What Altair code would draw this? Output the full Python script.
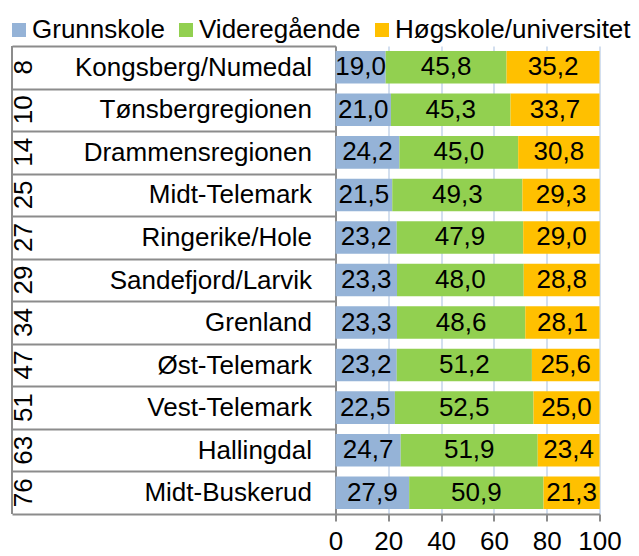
import altair as alt
import pandas as pd

regions = ["Kongsberg/Numedal", "Tønsbergregionen", "Drammensregionen", "Midt-Telemark",
           "Ringerike/Hole", "Sandefjord/Larvik", "Grenland", "Øst-Telemark",
           "Vest-Telemark", "Hallingdal", "Midt-Buskerud"]
ranks = [8, 10, 14, 25, 27, 29, 34, 47, 51, 63, 76]
grunnskole = [19.0, 21.0, 24.2, 21.5, 23.2, 23.3, 23.3, 23.2, 22.5, 24.7, 27.9]
videregaende = [45.8, 45.3, 45.0, 49.3, 47.9, 48.0, 48.6, 51.2, 52.5, 51.9, 50.9]
hoyskole = [35.2, 33.7, 30.8, 29.3, 29.0, 28.8, 28.1, 25.6, 25.0, 23.4, 21.3]
levels = ["Grunnskole", "Videregående", "Høgskole/universitet"]
colors = ["#95b3d7", "#92d050", "#ffc000"]
x_ticks = [0, 20, 40, 60, 80, 100]

FONT = "Liberation Sans"
GREY = "#8c8c8c"
FS = 26

rows = []
for i, r in enumerate(regions):
    for k, (lvl, series) in enumerate(zip(levels, [grunnskole, videregaende, hoyskole])):
        v = series[i]
        rows.append({"region": r, "level": lvl, "value": v, "ord": k,
                     "label": f"{v:.1f}".replace(".", ",")})
df = pd.DataFrame(rows)
rank_df = pd.DataFrame({"region": regions, "rank": [str(x) for x in ranks]})

W, H = 264, 468

y_enc = alt.Y("region:N", sort=regions, title=None,
              scale=alt.Scale(paddingInner=0, paddingOuter=0),
              axis=alt.Axis(domainColor=GREY, domainWidth=2, tickBand="extent",
                            tickSize=323.5, tickColor=GREY, tickWidth=2,
                            labelPadding=-299.5, labelFontSize=FS, labelFont=FONT,
                            labelColor="black", labelLimit=400, labelAlign="right",
                            labelBaseline="middle"))

x_axis = alt.Axis(values=x_ticks, title=None, domainColor=GREY, domainWidth=2,
                  tickColor=GREY, tickWidth=2, tickSize=7, labelFontSize=FS,
                  labelFont=FONT, labelColor="black", labelPadding=7,
                  labelFlush=False, gridColor="#c5d5ea", gridWidth=1.5)

bars = alt.Chart(df).mark_bar(height=alt.RelativeBandSize(0.765)).encode(
    x=alt.X("value:Q", stack="zero", title=None,
            scale=alt.Scale(domain=[0, 100], nice=False), axis=x_axis),
    y=y_enc,
    color=alt.Color("level:N", scale=alt.Scale(domain=levels, range=colors),
                    legend=alt.Legend(title=None, orient="none", legendX=-329.5,
                                      legendY=-29, direction="horizontal",
                                      symbolType="square", symbolSize=196,
                                      symbolStrokeWidth=0, labelFontSize=FS,
                                      labelFont=FONT, labelColor="black",
                                      labelOffset=0, columnPadding=8,
                                      padding=0, labelLimit=400)),
    order=alt.Order("ord:Q"),
)

labels = alt.Chart(df).transform_stack(
    stack="value", as_=["x0", "x1"], groupby=["region"],
    sort=[alt.SortField("ord", order="ascending")]
).transform_calculate(
    mid="(datum.x0 + datum.x1) / 2"
).mark_text(fontSize=FS, font=FONT, color="black", baseline="middle",
            align="center").encode(
    x=alt.X("mid:Q", title=None),
    y=y_enc,
    text="label:N",
)

rank_text = alt.Chart(rank_df).mark_text(fontSize=FS, font=FONT, color="black",
                                         angle=270, baseline="middle",
                                         align="center").encode(
    x=alt.value(-311.5),
    y=y_enc,
    text="rank:N",
)

left_border = alt.Chart(pd.DataFrame({"a": [0]})).mark_rule(
    color=GREY, strokeWidth=2).encode(
    x=alt.value(-323.5), y=alt.value(0), y2=alt.value(H))

chart = alt.layer(bars, labels, rank_text, left_border).properties(
    width=W, height=H,
    autosize=alt.AutoSizeParams(type="none"),
    padding={"left": 327.5, "top": 38, "right": 31.5, "bottom": 44},
).configure_view(stroke=None)

chart.save("out.html", embed_options={"renderer": "svg", "actions": False})
